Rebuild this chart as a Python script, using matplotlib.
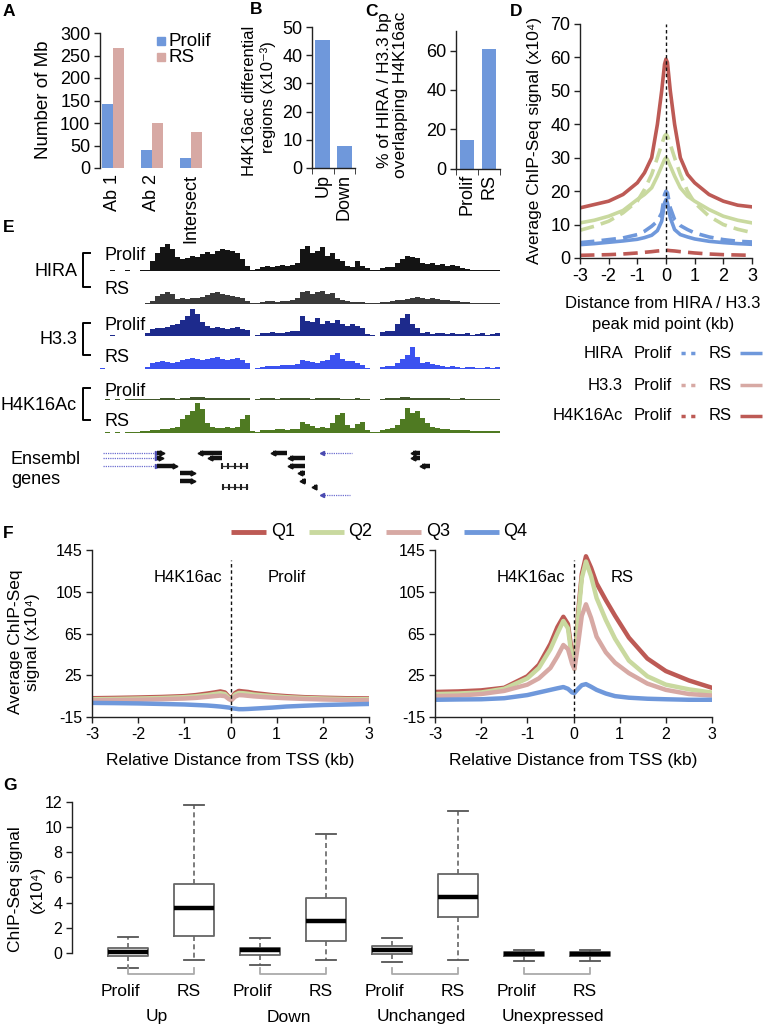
import numpy as np
import matplotlib
matplotlib.use('Agg')
import matplotlib.pyplot as plt
from matplotlib.patches import Rectangle

plt.rcParams['font.family'] = ['Liberation Sans', 'DejaVu Sans']
plt.rcParams['axes.linewidth'] = 1.0
plt.rcParams['axes.unicode_minus'] = False

# ---------------- data ----------------
# Panel A
a_cats = ['Ab 1', 'Ab 2', 'Intersect']
a_prolif = [142, 41, 22]
a_rs = [267, 99, 80]
# Panel B
b_cats = ['Up', 'Down']
b_vals = [45.5, 7.7]
# Panel C
c_cats = ['Prolif', 'RS']
c_vals = [14.5, 61]
# Panel D
d_x = [-3, -2.5, -2, -1.5, -1, -0.75, -0.5, -0.3, -0.15, -0.05, 0, 0.05, 0.15, 0.3, 0.5, 0.75, 1, 1.5, 2, 2.5, 3]
d_h4_rs = [15, 16, 17, 19, 22.5, 25.5, 30, 40, 50, 58, 59.5, 58.5, 50, 40, 30, 25, 22.5, 19, 17, 15.8, 15.3]
d_h4_prolif = [0.8, 0.9, 1.0, 1.2, 1.5, 1.7, 1.9, 2.1, 2.2, 2.3, 2.3, 2.3, 2.2, 2.1, 1.9, 1.7, 1.5, 1.2, 1.0, 0.9, 0.8]
d_h33_rs = [10.5, 11.3, 12.5, 14.2, 17.5, 19, 21, 24.5, 27.5, 29.5, 30, 29.5, 27.5, 24.5, 21, 18.5, 17, 14.5, 12.5, 11.3, 10.5]
d_h33_prolif = [8.3, 9.5, 11, 13.5, 17, 20.5, 25, 30, 34, 36.5, 37, 36.5, 34, 30, 25, 20, 16.5, 12.5, 10, 8.6, 7.6]
d_hira_rs = [4, 4.3, 4.7, 5.1, 5.6, 6.1, 6.8, 8.2, 11, 16.5, 17.5, 16.5, 12, 8.5, 7, 6.3, 5.7, 5, 4.6, 4.3, 4.1]
d_hira_prolif = [4.6, 5.0, 5.5, 6.0, 7.0, 8.0, 9.5, 11, 13.5, 19, 20, 19.5, 15, 11.5, 9.7, 8.5, 7.5, 6.3, 5.5, 5.0, 4.8]
d_legend_rows = ['HIRA', 'H3.3', 'H4K16Ac']

# Panel E (genome browser tracks, 80 bins)
e_hira_prolif = [0.5, 0.3, 0.8, 0.3, 0.5, 0.8, 0.3, 0.5, 0.8, 1.5,
                 10, 18, 24, 27, 22, 14, 12, 13, 15, 14,
                 17, 19, 17, 20, 22, 21, 20, 18, 12, 5,
                 1, 2, 4, 5, 4, 5, 6, 5, 6, 8,
                 22, 25, 18, 20, 24, 15, 18, 12, 10, 5,
                 4, 10, 5, 3, 1, 1, 3, 4, 4, 8,
                 12, 15, 14, 13, 8, 7, 8, 6, 7, 5,
                 6, 5, 3, 2, 1.5, 1, 1.5, 1, 1, 1]
e_hira_rs = [0.5, 0.3, 0.5, 0.3, 0.5, 0.5, 0.3, 0.5, 0.5, 1,
             3, 8, 10, 12, 10, 5, 6, 5, 6, 6,
             7, 9, 11, 12, 10, 9, 8, 7, 6, 3,
             1, 1, 2, 3, 3, 2, 3, 3, 4, 6,
             12, 13, 10, 12, 13, 10, 11, 6, 4, 3,
             2, 2, 2, 1, 1, 1, 2, 2, 3, 4,
             4, 5, 6, 7, 6, 5, 6, 5, 4, 4,
             3, 3, 2, 2, 1, 1, 1, 1, 1, 1]
e_h33_prolif = [0.5, 0.3, 0.8, 0.3, 0.3, 0.5, 0.3, 0.3, 0.5, 3,
                7, 8, 8, 9, 11, 12, 16, 20, 27, 22,
                14, 10, 8, 9, 8, 7, 8, 9, 7, 6,
                0.5, 1, 3, 3, 4, 3, 3, 4, 5, 5,
                20, 15, 14, 18, 12, 15, 13, 16, 12, 10,
                12, 10, 8, 2, 1, 0.5, 4, 5, 5, 12,
                18, 22, 12, 8, 3, 4, 2, 3, 3, 2,
                3, 2, 2, 3, 1, 2, 3, 1, 2, 3]
e_h33_rs = [0.8, 0.3, 0.5, 0.3, 0.5, 0.3, 0.5, 0.3, 0.5, 2,
            6, 7, 8, 7, 6, 7, 9, 10, 11, 10,
            9, 10, 11, 12, 10, 9, 10, 11, 9, 6,
            0.5, 1, 2, 3, 3, 3, 4, 4, 4, 5,
            9, 8, 7, 6, 8, 9, 14, 16, 10, 8,
            8, 6, 4, 1, 0.5, 0.5, 2, 3, 3, 6,
            10, 14, 22, 12, 6, 7, 5, 4, 3, 2,
            3, 2, 1, 2, 2, 1, 1, 2, 1, 2]
e_h4_prolif = [0.5, 0.8, 0.5, 0.8, 0.5, 0.8, 1, 1.2, 1, 1.2,
               1.5, 1.5, 1.8, 2, 1.8, 1.5, 1.8, 2.5, 3, 3.5,
               3, 2.5, 2, 2, 2.2, 2, 2.5, 2, 2.5, 2,
               0.5, 1.5, 1.8, 2, 1.8, 1.5, 1.8, 2, 1.8, 2,
               2, 1.8, 1.5, 2, 2, 1.8, 2, 1.8, 1.5, 1.5,
               1.5, 1.8, 1.5, 1, 0.5, 0.5, 1.5, 2, 2, 2.5,
               3, 3.5, 2.5, 2, 2, 2.2, 2, 1.8, 2, 1.8,
               1.5, 1.5, 1.8, 1.5, 1.2, 1.5, 1.2, 1.5, 1.2, 1.5]
e_h4_rs = [0.5, 0.8, 0.5, 1, 0.5, 0.8, 1, 1.2, 2, 2.5,
           3, 3.5, 4, 4.5, 5, 6, 14, 18, 22, 30,
           24, 10, 6, 5, 5, 6, 5, 6, 14, 18,
           2, 1, 3, 3, 3.5, 4, 4, 3.5, 4, 4.5,
           11, 9, 7, 5, 6, 5, 10, 18, 20, 8,
           5, 9, 11, 3, 1, 1, 3, 4, 5, 8,
           14, 25, 20, 22, 15, 10, 6, 5, 4, 4,
           3.5, 3, 3, 3, 2.5, 2.5, 2, 2.5, 2, 2]
e_marks = ['HIRA', 'H3.3', 'H4K16Ac']
e_conditions = ['Prolif', 'RS']
# Ensembl genes: start bin, end bin, row, kind ('k' gene block, 'b' transcript line, 'd' exon chain), strand
gene_start = [0.6, 0.6, 0.6, 11.4, 11.4, 11.4, 20, 22, 24.4, 16, 16, 24.6, 34.6, 38, 38, 40, 40.4, 42.8, 44.4, 44.4, 62.6, 62.6, 64.4]
gene_end = [11.4, 11.4, 11.4, 12.4, 12.2, 15.0, 24.4, 24.4, 29.4, 18.6, 18.6, 29.4, 37.4, 41, 41, 41, 41.2, 43.4, 50.4, 50.0, 64, 64, 66]
gene_row = [0, 1, 2, 0, 1, 2, 0, 1, 2, 3, 4, 5, 0, 1, 2, 3, 4, 5, 0, 6, 0, 1, 2]
gene_kind = ['b', 'b', 'b', 'k', 'k', 'k', 'k', 'k', 'd', 'k', 'k', 'd', 'k', 'k', 'k', 'k', 'k', 'k', 'b', 'b', 'k', 'k', 'k']
gene_strand = ['+', '+', '+', '+', '+', '+', '-', '-', '+', '+', '+', '+', '-', '-', '-', '-', '-', '-', '-', '-', '-', '-', '-']

# Panel F
f_x = [-3, -2.5, -2, -1.5, -1, -0.75, -0.5, -0.35, -0.22, -0.12, -0.03, 0.02, 0.1, 0.18, 0.27, 0.38, 0.5, 0.7, 0.9, 1.2, 1.6, 2.0, 2.5, 3]
f_prolif_q1 = [3, 3.3, 3.7, 4.2, 5, 6, 7.5, 8.5, 9.5, 8.5, 4, 3, 8, 10, 9.5, 9, 8, 7, 6, 5, 4, 3.5, 3, 2.8]
f_prolif_q2 = [2, 2.3, 2.7, 3.2, 4, 4.8, 6, 7, 7.8, 7, 3, 2, 6.5, 8, 7.8, 7.3, 6.5, 5.7, 5, 4, 3.2, 2.7, 2.2, 2]
f_prolif_q3 = [1, 1.2, 1.5, 2, 2.7, 3.3, 4.3, 5, 5.5, 5, 2, 1, 4.5, 6, 5.8, 5.3, 4.8, 4.2, 3.6, 3, 2.3, 1.8, 1.3, 1]
f_prolif_q4 = [-1.5, -1.7, -2, -2.5, -3, -3.5, -4, -4.5, -5, -5.5, -6, -6.5, -7, -7.5, -7.5, -7.3, -7, -6.5, -6, -5, -4.2, -3.5, -3, -2.5]
f_rs_q1 = [9, 9.5, 10.5, 13, 24, 35, 55, 71, 81, 74, 45, 35, 85, 122, 139, 128, 113, 97, 82, 61, 41, 29, 20, 13]
f_rs_q2 = [7, 7.5, 8.5, 12, 22, 32, 50, 65, 77, 70, 40, 31, 80, 118, 134, 120, 99, 78, 60, 39, 24, 16, 11.5, 8.4]
f_rs_q3 = [5, 5.5, 7, 10, 16, 22, 32, 43, 54, 50, 36, 31, 55, 82, 93, 80, 62, 47, 37, 27, 17, 11, 7, 5.5]
f_rs_q4 = [1.5, 1.8, 2, 3, 6, 8.5, 11, 12.5, 13.7, 12, 8.5, 8, 12, 15.5, 16.5, 14, 11, 7.5, 5, 3.5, 2.5, 2, 1.5, 1.5]
f_quartiles = ['Q1', 'Q2', 'Q3', 'Q4']

# Panel G (box statistics, x10^4)
g_groups = ['Up', 'Down', 'Unchanged', 'Unexpressed']
g_conds = ['Prolif', 'RS']
g_whislo = [-1.2, -0.5, -0.9, -0.5, -0.7, -0.53, -0.58, -0.63]
g_q1 = [-0.25, 1.35, -0.13, 0.95, -0.05, 2.9, -0.24, -0.24]
g_med = [0.08, 3.6, 0.24, 2.55, 0.29, 4.47, -0.05, -0.05]
g_q3 = [0.42, 5.5, 0.45, 4.34, 0.56, 6.24, 0.13, 0.13]
g_whishi = [1.31, 11.74, 1.18, 9.4, 1.24, 11.28, 0.26, 0.29]

# ---------------- styling ----------------
BLUE = '#6f98db'
PINK = '#d7a9a4'
RED = '#bd5a55'
GREEN = '#c9d99f'
AXC = '#222222'
TICK = 13
LAB = 12.5

W, H = 763, 1026
fig = plt.figure(figsize=(W / 100, H / 100), dpi=100)


def px_axes(x0, y0, x1, y1, **kw):
    return fig.add_axes([x0 / W, 1 - y1 / H, (x1 - x0) / W, (y1 - y0) / H], **kw)


def style_axes(ax, bottom=True):
    for s in ['top', 'right']:
        ax.spines[s].set_visible(False)
    ax.spines['left'].set_color(AXC)
    ax.spines['bottom'].set_color(AXC)
    ax.spines['bottom'].set_visible(bottom)
    ax.tick_params(colors=AXC, labelcolor='black', direction='out', length=4, width=1, labelsize=TICK, pad=3)
    ax.patch.set_alpha(0)


ov = px_axes(0, 0, W, H, zorder=20)
ov.set_xlim(0, W)
ov.set_ylim(H, 0)
ov.axis('off')
ov.patch.set_alpha(0)


def ptxt(x, y, s, **kw):
    kw.setdefault('fontsize', LAB)
    ov.text(x, y, s, **kw)


# panel letters
for lab, (x, y) in {'A': (3, 12), 'B': (250, 10), 'C': (365, 12), 'D': (510, 12),
                    'E': (3, 227), 'F': (3, 533), 'G': (3, 785)}.items():
    ptxt(x, y, lab, fontsize=12.5, fontweight='bold', va='center', ha='left')

# ---------------- Panel A ----------------
axA = px_axes(100, 33, 210, 168)
xa = np.arange(len(a_cats))
axA.bar(xa - 0.14, a_prolif, 0.28, color=BLUE)
axA.bar(xa + 0.14, a_rs, 0.28, color=PINK)
axA.set_xlim(-0.333, 2.487)
axA.set_ylim(0, 300)
axA.set_yticks(range(0, 301, 50))
axA.set_xticks(xa, a_cats, rotation=90)
style_axes(axA, bottom=False)
axA.tick_params(axis='x', length=0, pad=4)
ptxt(44, 100, 'Number of Mb', rotation=90, ha='center', va='center', fontsize=13.5)
ov.add_patch(Rectangle((157, 37), 8, 8, color=BLUE))
ov.add_patch(Rectangle((157, 53), 8, 8, color=PINK))
ptxt(169, 41, 'Prolif', va='center', fontsize=13.5)
ptxt(169, 57, 'RS', va='center', fontsize=13.5)

# ---------------- Panel B ----------------
axB = px_axes(312, 27, 355, 168)
xb = np.arange(len(b_cats))
axB.bar(xb, b_vals, 0.72, color=BLUE)
axB.set_xlim(-0.5, 1.5)
axB.set_ylim(0, 50)
axB.set_yticks(range(0, 51, 10))
axB.set_xticks(xb, b_cats, rotation=90)
axB.set_xticks([-0.5, 0.5, 1.5], minor=True)
style_axes(axB)
axB.tick_params(axis='x', which='major', length=0, pad=4)
axB.tick_params(axis='x', which='minor', length=4, direction='out', colors=AXC)
ptxt(249, 101, 'H4K16ac differential', rotation=90, ha='center', va='center', fontsize=12)
ptxt(268, 97, 'regions (x10⁻³)', rotation=90, ha='center', va='center', fontsize=12)

# ---------------- Panel C ----------------
axC = px_axes(456, 31, 500, 168.5)
xc = np.arange(len(c_cats))
axC.bar(xc, c_vals, 0.65, color=BLUE)
axC.set_xlim(-0.5, 1.5)
axC.set_ylim(0, 70)
axC.set_yticks(range(0, 61, 20))
axC.set_xticks(xc, c_cats, rotation=90)
axC.set_xticks([-0.5, 0.5, 1.5], minor=True)
style_axes(axC)
axC.tick_params(axis='x', which='major', length=0, pad=4)
axC.tick_params(axis='x', which='minor', length=4, direction='out', colors=AXC)
ptxt(384, 12, '% of HIRA / H3.3 bp', rotation=90, rotation_mode='anchor', ha='right', va='center')
ptxt(400, 12, 'overlapping H4K16ac', rotation=90, rotation_mode='anchor', ha='right', va='center')

# ---------------- Panel D ----------------
axD = px_axes(580, 24, 752, 258)
lw_d = 2.6
axD.plot(d_x, d_h4_prolif, color=RED, lw=lw_d, ls=(0, (4, 2)))
axD.plot(d_x, d_h33_prolif, color=GREEN, lw=lw_d, ls=(0, (4, 2)))
axD.plot(d_x, d_h33_rs, color=GREEN, lw=lw_d)
axD.plot(d_x, d_hira_prolif, color=BLUE, lw=lw_d, ls=(0, (4, 2)))
axD.plot(d_x, d_hira_rs, color=BLUE, lw=lw_d)
axD.plot(d_x, d_h4_rs, color=RED, lw=lw_d)
axD.axvline(0, color='#111111', lw=1, ls=(0, (2.5, 2)))
axD.set_xlim(-3, 3)
axD.set_ylim(0, 70)
axD.set_yticks(range(0, 71, 10))
axD.set_xticks(range(-3, 4))
style_axes(axD)
ptxt(534, 141, 'Average ChIP-Seq signal (x10⁴)', rotation=90, ha='center', va='center')
ptxt(663, 303, 'Distance from HIRA / H3.3', ha='center', va='center', fontsize=12)
ptxt(663, 324, 'peak mid point (kb)', ha='center', va='center', fontsize=12)
leg_cols = [BLUE, PINK, RED]
leg_y = [353, 385, 416]
for name, col, y in zip(d_legend_rows, leg_cols, leg_y):
    ptxt(623, y, name, ha='right', va='center', fontsize=12)
    ptxt(634, y, 'Prolif', ha='left', va='center', fontsize=12)
    ov.plot([681, 700], [y, y], color=col, lw=2.5, ls=(0, (1.2, 1.6)))
    ptxt(709, y, 'RS', ha='left', va='center', fontsize=12)
    ov.plot([740, 762], [y, y], color=col, lw=2.5, solid_capstyle='butt')

# ---------------- Panel E ----------------
tracks = [(e_hira_prolif, '#141414', 271), (e_hira_rs, '#3a3a3a', 304),
          (e_h33_prolif, '#1d2a8c', 336), (e_h33_rs, '#3b52f0', 369),
          (e_h4_prolif, '#41572b', 400), (e_h4_rs, '#4f7a22', 433)]
edges = np.arange(81)
for vals, col, base in tracks:
    ax = px_axes(100, base - 34, 500, base)
    ax.stairs(vals, edges, fill=True, color=col, lw=0)
    ax.set_xlim(0, 80)
    ax.set_ylim(0, 34)
    ax.axis('off')
mark_y = [(253, 287, 272), (323, 355, 340), (388, 420, 405)]
for name, (y0, y1, yc) in zip(e_marks, mark_y):
    ptxt(77, yc, name, ha='right', va='center', fontsize=13)
    ov.plot([90, 83, 83, 90], [y0, y0, y1, y1], color='black', lw=1.4)
    ptxt(104, y0 + 3, e_conditions[0], ha='left', va='center', fontsize=13)
    ptxt(104, y1 + 2, e_conditions[1], ha='left', va='center', fontsize=13)
ptxt(11, 460, 'Ensembl', ha='left', va='center', fontsize=13)
ptxt(11, 480, 'genes', ha='left', va='center', fontsize=13)
axG_e = px_axes(100, 445, 500, 505)
axG_e.set_xlim(0, 80)
axG_e.set_ylim(7, -1)
axG_e.axis('off')
row_pos = np.array([0, 0.75, 1.75, 2.75, 3.75, 4.6, 5.6])
for s, e, r, k, st in zip(gene_start, gene_end, gene_row, gene_kind, gene_strand):
    y = row_pos[r]
    if k == 'b':
        axG_e.plot([s, e], [y, y], color='#6d6fd0', lw=0.9, ls=(0, (1, 0.8)))
        axG_e.plot([e if st == '+' else s], [y], marker='>' if st == '+' else '<', color='#4a4ab0', ms=3)
    elif k == 'd':
        axG_e.plot([s, e], [y, y], color='#333333', lw=0.9)
        axG_e.plot(np.linspace(s, e, 5), [y] * 5, ls='none', marker='|', color='#222222', ms=4, mew=1.5)
    else:
        axG_e.plot([s, e], [y, y], color='#111111', lw=3.2, solid_capstyle='butt')
        axG_e.plot([s if st == '-' else e], [y], marker='<' if st == '-' else '>', color='#111111', ms=3.5)

# ---------------- Panel F ----------------
fcols = [RED, GREEN, PINK, BLUE]
for (x0, x1), series, cond in [((92, 369), [f_prolif_q1, f_prolif_q2, f_prolif_q3, f_prolif_q4], 'Prolif'),
                               ((435, 712), [f_rs_q1, f_rs_q2, f_rs_q3, f_rs_q4], 'RS')]:
    ax = px_axes(x0, 550, x1, 717)
    for ys, col in zip(series, fcols):
        ax.plot(f_x, ys, color=col, lw=3.2, solid_joinstyle='round')
    ax.axvline(0, ymax=0.94, color='#111111', lw=1, ls=(0, (2.5, 2)))
    ax.set_xlim(-3, 3)
    ax.set_ylim(-15, 145)
    ax.set_yticks([-15, 25, 65, 105, 145])
    ax.set_xticks(range(-3, 4))
    style_axes(ax)
    ax.tick_params(labelsize=11.5)
    xm = (x0 + x1) / 2
    ptxt(xm, 760, 'Relative Distance from TSS (kb)', ha='center', va='center')
    ptxt(xm - 8, 578, 'H4K16ac', ha='right', va='center', fontsize=12)
    ptxt(xm + 37, 578, cond, ha='left', va='center', fontsize=12)
ptxt(16, 642, 'Average ChIP-Seq', rotation=90, ha='center', va='center')
ptxt(33, 642, 'signal (x10⁴)', rotation=90, ha='center', va='center')
for i, (q, col) in enumerate(zip(f_quartiles, fcols)):
    lx = 231 + i * 77.5
    ov.plot([lx, lx + 35], [532, 532], color=col, lw=3.5, solid_capstyle='butt')
    ptxt(lx + 40, 532, q, ha='left', va='center', fontsize=13)

# ---------------- Panel G ----------------
axG = px_axes(72, 795, 640, 975)
pos = np.arange(1, 9)
stats = [dict(whislo=a, q1=b, med=c, q3=d, whishi=e) for a, b, c, d, e in
         zip(g_whislo, g_q1, g_med, g_q3, g_whishi)]
axG.bxp(stats, positions=pos, widths=0.6, showfliers=False, capwidths=0.3,
        boxprops=dict(color='#666666', lw=1.3),
        medianprops=dict(color='black', lw=3.2, solid_capstyle='butt'),
        whiskerprops=dict(color='#666666', lw=1.2, ls=(0, (3, 2))),
        capprops=dict(color='#555555', lw=1.3))
axG.set_xlim(0.1515, 8.757)
axG.set_ylim(-1.717, 12.52)
axG.spines['left'].set_bounds(0, 12)
axG.set_yticks(range(0, 13, 2))
style_axes(axG, bottom=False)
axG.set_xticks([])
axG.tick_params(labelsize=11.5)
for gi, grp in enumerate(g_groups):
    p0, p1 = pos[2 * gi], pos[2 * gi + 1]
    axG.plot([p0, p0, p1, p1], [-1.17, -1.64, -1.64, -1.17], color='#aaaaaa', lw=1.3, clip_on=False)
for gi, grp in enumerate(g_groups):
    px0 = 62 + 66 * pos[2 * gi]
    px1 = 62 + 66 * pos[2 * gi + 1]
    ptxt(px0 - 8, 991, g_conds[0], ha='center', va='center', fontsize=12.5)
    ptxt(px1 - 5, 991, g_conds[1], ha='center', va='center', fontsize=12.5)
    ptxt((px0 + px1) / 2 - 4, 1017, grp, ha='center', va='center', fontsize=12.5)
ptxt(16, 889, 'ChIP-Seq signal', rotation=90, ha='center', va='center')
ptxt(37, 889, '(x10⁴)', rotation=90, ha='center', va='center')

fig.savefig('out.png', dpi=100)
